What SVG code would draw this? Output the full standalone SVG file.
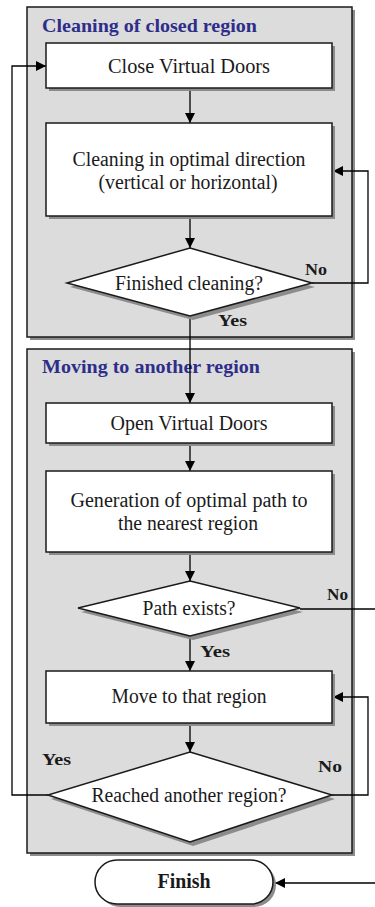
<svg xmlns="http://www.w3.org/2000/svg" width="375" height="907" viewBox="0 0 375 907">
  <defs>
    <marker id="arrow" viewBox="0 0 10 10" refX="10" refY="5" markerWidth="10" markerHeight="10" markerUnits="userSpaceOnUse" orient="auto">
      <path d="M0,0 L10,5 L0,10 z" fill="#000"/>
    </marker>
  </defs>
  <style>
    .panel { fill: #dcdcdc; stroke: #1a1a1a; stroke-width: 1.5; }
    .shadow { fill: #8c8c8c; }
    .box { fill: #ffffff; stroke: #1a1a1a; stroke-width: 1.5; }
    .title { font-family: "Liberation Serif", "Times New Roman", serif; font-weight: bold; font-size: 19px; fill: #2e2e8a; }
    .label { font-family: "Liberation Serif", "Times New Roman", serif; font-size: 20px; fill: #1a1a1a; text-anchor: middle; }
    .tag { font-family: "Liberation Serif", "Times New Roman", serif; font-weight: bold; font-size: 16px; fill: #1a1a1a; }
    .wire { fill: none; stroke: #000; stroke-width: 1.3; }
  </style>

  <rect width="375" height="907" fill="#ffffff"/>

  <!-- region panels -->
  <g id="panel-closed">
    <rect class="shadow" x="30" y="10" width="325" height="330"/>
    <rect class="panel" x="27" y="7" width="325" height="330"/>
    <text class="title" x="42" y="32" textLength="215" lengthAdjust="spacingAndGlyphs">Cleaning of closed region</text>
  </g>
  <g id="panel-moving">
    <rect class="shadow" x="30" y="352" width="325" height="504"/>
    <rect class="panel" x="27" y="349" width="325" height="504"/>
    <text class="title" x="42" y="373" textLength="218" lengthAdjust="spacingAndGlyphs">Moving to another region</text>
  </g>

  <!-- connectors -->
  <g id="connectors">
    <line class="wire" x1="190" y1="88" x2="190" y2="123" marker-end="url(#arrow)"/>
    <line class="wire" x1="190" y1="216" x2="190" y2="248" marker-end="url(#arrow)"/>
    <polyline class="wire" points="312,283 368,283 368,171 333,171" marker-end="url(#arrow)"/>
    <line class="wire" x1="190" y1="316" x2="190" y2="403" marker-end="url(#arrow)"/>
    <line class="wire" x1="190" y1="443" x2="190" y2="471" marker-end="url(#arrow)"/>
    <line class="wire" x1="190" y1="552" x2="190" y2="581" marker-end="url(#arrow)"/>
    <line class="wire" x1="300" y1="609" x2="376" y2="609"/>
    <line class="wire" x1="190" y1="636" x2="190" y2="671" marker-end="url(#arrow)"/>
    <line class="wire" x1="190" y1="723" x2="190" y2="752" marker-end="url(#arrow)"/>
    <polyline class="wire" points="332,795 368,795 368,697 333,697" marker-end="url(#arrow)"/>
    <polyline class="wire" points="48,795 12,795 12,66 46,66" marker-end="url(#arrow)"/>
    <line class="wire" x1="376" y1="883" x2="275" y2="883" marker-end="url(#arrow)"/>
    <text class="tag" x="305" y="275" textLength="22" lengthAdjust="spacingAndGlyphs">No</text>
    <text class="tag" x="218" y="326" textLength="29" lengthAdjust="spacingAndGlyphs">Yes</text>
    <text class="tag" x="327" y="600" textLength="21" lengthAdjust="spacingAndGlyphs">No</text>
    <text class="tag" x="200" y="657" textLength="30" lengthAdjust="spacingAndGlyphs">Yes</text>
    <text class="tag" x="42" y="765" textLength="29" lengthAdjust="spacingAndGlyphs">Yes</text>
    <text class="tag" x="318" y="772" textLength="24" lengthAdjust="spacingAndGlyphs">No</text>
  </g>

  <!-- steps -->
  <g id="close-doors">
    <rect class="shadow" x="49" y="46" width="286" height="45"/>
    <rect class="box" x="46" y="43" width="286" height="45"/>
    <text class="label" x="189" y="73" textLength="162" lengthAdjust="spacingAndGlyphs">Close Virtual Doors</text>
  </g>
  <g id="clean-direction">
    <rect class="shadow" x="49" y="126" width="286" height="93"/>
    <rect class="box" x="46" y="123" width="286" height="93"/>
    <text class="label" x="189" y="166" textLength="233" lengthAdjust="spacingAndGlyphs">Cleaning in optimal direction</text>
    <text class="label" x="188" y="189" textLength="179" lengthAdjust="spacingAndGlyphs">(vertical or horizontal)</text>
  </g>
  <g id="finished-cleaning">
    <polygon class="shadow" points="193,252 315,287 193,320 70,287"/>
    <polygon class="box" points="190,248 312,283 190,316 67,283"/>
    <text class="label" x="189" y="290" textLength="148" lengthAdjust="spacingAndGlyphs">Finished cleaning?</text>
  </g>
  <g id="open-doors">
    <rect class="shadow" x="49" y="406" width="286" height="40"/>
    <rect class="box" x="46" y="403" width="286" height="40"/>
    <text class="label" x="189" y="430" textLength="157" lengthAdjust="spacingAndGlyphs">Open Virtual Doors</text>
  </g>
  <g id="generate-path">
    <rect class="shadow" x="49" y="474" width="286" height="81"/>
    <rect class="box" x="46" y="471" width="286" height="81"/>
    <text class="label" x="189" y="507" textLength="237" lengthAdjust="spacingAndGlyphs">Generation of optimal path to</text>
    <text class="label" x="188" y="530" textLength="140" lengthAdjust="spacingAndGlyphs">the nearest region</text>
  </g>
  <g id="path-exists">
    <polygon class="shadow" points="193,585 303,612 193,640 81,612"/>
    <polygon class="box" points="190,581 300,608 190,636 78,608"/>
    <text class="label" x="189" y="615" textLength="93" lengthAdjust="spacingAndGlyphs">Path exists?</text>
  </g>
  <g id="move-region">
    <rect class="shadow" x="49" y="674" width="286" height="52"/>
    <rect class="box" x="46" y="671" width="286" height="52"/>
    <text class="label" x="189" y="703" textLength="155" lengthAdjust="spacingAndGlyphs">Move to that region</text>
  </g>
  <g id="reached-region">
    <polygon class="shadow" points="193,756 335,799 193,846 51,799"/>
    <polygon class="box" points="190,752 332,795 190,842 48,795"/>
    <text class="label" x="189" y="802" textLength="195" lengthAdjust="spacingAndGlyphs">Reached another region?</text>
  </g>
  <g id="finish">
    <rect class="shadow" x="98" y="863" width="178" height="44" rx="22"/>
    <rect class="box" x="95" y="860" width="178" height="44" rx="22"/>
    <text class="label" x="184" y="888" font-weight="bold" textLength="53" lengthAdjust="spacingAndGlyphs">Finish</text>
  </g>
</svg>
